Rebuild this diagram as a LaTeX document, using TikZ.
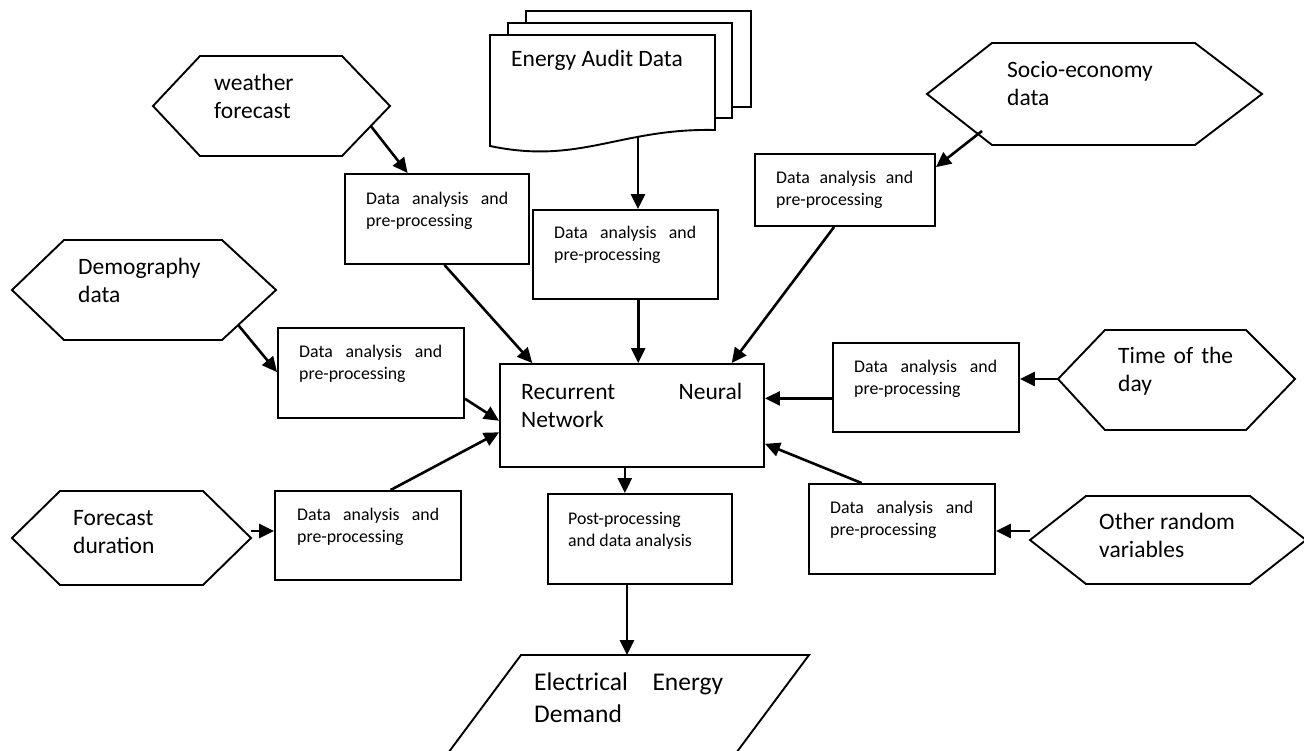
\documentclass[tikz,border=0pt]{standalone}
\usepackage{fontspec}
\setmainfont{Carlito}
\usetikzlibrary{arrows.meta,calc}

% two stacked lines whose baseline is that of the first line
\newcommand\dualline[2]{\vtop{\hbox{#1}\hbox{#2}}}
% a line whose word spaces stretch to a given width
\newcommand\spreadline[2]{\makebox[#1][s]{#2}}

\begin{document}
\begin{tikzpicture}[x=1pt,y=-1pt,
  outline/.style={draw, line width=1.9pt, line join=miter},
  procbox/.style={draw, line width=1.9pt, rectangle, inner sep=0pt},
  flow/.style={line width=2.6pt, -{Triangle[length=15pt,width=14pt]}},
  bigtxt/.style={anchor=base west, inner sep=0pt, font=\fontsize{23.5}{28.5}\selectfont},
  outtxt/.style={anchor=base west, inner sep=0pt, font=\fontsize{25.5}{32}\selectfont},
  smalltxt/.style={anchor=base west, inner sep=0pt, font=\fontsize{17.8}{22.8}\selectfont},
]
\useasboundingbox (0,0) rectangle (1304,750);

% ---------- input hexagons ----------
% weather forecast
\coordinate (wx-l) at (153,106); \coordinate (wx-tl) at (200,56);
\coordinate (wx-tr) at (342,56); \coordinate (wx-r) at (390,106);
\coordinate (wx-br) at (342,156); \coordinate (wx-bl) at (200,156);
\draw[outline] (wx-l) -- (wx-tl) -- (wx-tr) -- (wx-r) -- (wx-br) -- (wx-bl) -- cycle;
\node[bigtxt] (wx-t) at (214,90) {\dualline{weather}{forecast}};

% socio-economy data
\coordinate (se-l) at (927,94); \coordinate (se-tl) at (992,43);
\coordinate (se-tr) at (1195,43); \coordinate (se-r) at (1262,94);
\coordinate (se-br) at (1195,145); \coordinate (se-bl) at (992,145);
\draw[outline] (se-l) -- (se-tl) -- (se-tr) -- (se-r) -- (se-br) -- (se-bl) -- cycle;
\node[bigtxt] (se-t) at (1007,77) {\dualline{Socio-economy}{data}};
\coordinate (se-out) at (982,131);

% demography data
\coordinate (dm-l) at (12,290); \coordinate (dm-tl) at (64,240);
\coordinate (dm-tr) at (222,240); \coordinate (dm-r) at (276,290);
\coordinate (dm-br) at (222,340); \coordinate (dm-bl) at (64,340);
\draw[outline] (dm-l) -- (dm-tl) -- (dm-tr) -- (dm-r) -- (dm-br) -- (dm-bl) -- cycle;
\node[bigtxt] (dm-t) at (78,274) {\dualline{Demography}{data}};

% forecast duration
\coordinate (fc-l) at (12,538); \coordinate (fc-tl) at (60,491);
\coordinate (fc-tr) at (203,491); \coordinate (fc-r) at (251,538);
\coordinate (fc-br) at (203,585); \coordinate (fc-bl) at (60,585);
\draw[outline] (fc-l) -- (fc-tl) -- (fc-tr) -- (fc-r) -- (fc-br) -- (fc-bl) -- cycle;
\node[bigtxt] (fc-t) at (73,525) {\dualline{Forecast}{duration}};
\coordinate (fc-out) at (251,531);

% time of the day
\coordinate (td-l) at (1058,379); \coordinate (td-tl) at (1105,330);
\coordinate (td-tr) at (1246,330); \coordinate (td-r) at (1295,379);
\coordinate (td-br) at (1246,430); \coordinate (td-bl) at (1105,430);
\draw[outline] (td-l) -- (td-tl) -- (td-tr) -- (td-r) -- (td-br) -- (td-bl) -- cycle;
\node[bigtxt] (td-t) at (1118,363) {\dualline{\spreadline{115pt}{Time of the}}{day}};

% other random variables
\coordinate (ot-l) at (1030,540); \coordinate (ot-tl) at (1086,496);
\coordinate (ot-tr) at (1250,496); \coordinate (ot-r) at (1306,540);
\coordinate (ot-br) at (1250,584); \coordinate (ot-bl) at (1086,584);
\draw[outline] (ot-l) -- (ot-tl) -- (ot-tr) -- (ot-r) -- (ot-br) -- (ot-bl) -- cycle;
\node[bigtxt] (ot-t) at (1099,529) {\dualline{Other random}{variables}};
\coordinate (ot-out) at (1030,531);

% ---------- energy audit documents ----------
\draw[outline, fill=white] (526,23) -- (526,11) -- (751,11) -- (751,107) -- (732,107);
\draw[outline, fill=white] (508,35) -- (508,23) -- (732,23) -- (732,118) -- (715,118);
\draw[outline, fill=white] (490,35) -- (715,35) -- (715,130)
  .. controls (620,128) and (580,165) .. (490,146) -- cycle;
\node[bigtxt] (ead-t) at (511,66) {Energy Audit Data};
\coordinate (ead-out) at (638,137);

% ---------- processing boxes ----------
\node[procbox, minimum width=184pt, minimum height=90pt] (wdap) at (437,219) {};
\node[procbox, minimum width=185pt, minimum height=89pt] (edap) at (625.5,254.5) {};
\node[procbox, minimum width=180pt, minimum height=72pt] (sdap) at (845,190) {};
\node[procbox, minimum width=186pt, minimum height=90pt] (ddap) at (371,373) {};
\node[procbox, minimum width=186pt, minimum height=89pt] (fdap) at (368,535.5) {};
\node[procbox, minimum width=186pt, minimum height=89pt] (tdap) at (926,387.5) {};
\node[procbox, minimum width=186pt, minimum height=90pt] (odap) at (902,529) {};
\node[procbox, minimum width=184pt, minimum height=90pt] (pp) at (640,539) {};
\node[procbox, minimum width=264pt, minimum height=103pt] (rnn) at (632,415.5) {};

\node[smalltxt] (wdap-t) at (366,204) {\dualline{\spreadline{142pt}{Data analysis and}}{pre-processing}};
\node[smalltxt] (edap-t) at (554,238) {\dualline{\spreadline{142pt}{Data analysis and}}{pre-processing}};
\node[smalltxt] (sdap-t) at (776,183) {\dualline{\spreadline{137pt}{Data analysis and}}{pre-processing}};
\node[smalltxt] (ddap-t) at (299,357) {\dualline{\spreadline{143pt}{Data analysis and}}{pre-processing}};
\node[smalltxt] (fdap-t) at (297,520) {\dualline{\spreadline{142pt}{Data analysis and}}{pre-processing}};
\node[smalltxt] (tdap-t) at (854,372) {\dualline{\spreadline{143pt}{Data analysis and}}{pre-processing}};
\node[smalltxt] (odap-t) at (830,513) {\dualline{\spreadline{143pt}{Data analysis and}}{pre-processing}};
\node[smalltxt] (pp-t) at (568,524) {\dualline{Post-processing}{and data analysis}};
\node[bigtxt] (rnn-t) at (521,399) {\dualline{\spreadline{221pt}{Recurrent Neural}}{Network}};

% ---------- output parallelogram ----------
\coordinate (eed-tl) at (521,655); \coordinate (eed-tr) at (809,655);
\coordinate (eed-br) at (716,780); \coordinate (eed-bl) at (428,780);
\draw[outline] (eed-tl) -- (eed-tr) -- (eed-br) -- (eed-bl) -- cycle;
\node[outtxt] (eed-t) at (534,690) {\dualline{\spreadline{189pt}{Electrical Energy}}{Demand}};

% ---------- connectors ----------
\draw[flow] ($(wx-r)!0.4!(wx-br)$) -- ($(wdap.north west)!0.342!(wdap.north east)$);
\draw[flow] ($(wdap.south west)!0.54!(wdap.south east)$) -- ($(rnn.north west)!0.125!(rnn.north east)$);

\draw[flow] (ead-out) -- (ead-out |- edap.north);
\coordinate (edap-out) at ($(edap.south west)!0.568!(edap.south east)$);
\draw[flow] (edap-out) -- (edap-out |- rnn.north);

\draw[flow] (se-out) -- ($(sdap.north east)!0.19!(sdap.south east)$);
\draw[flow] ($(sdap.south west)!0.44!(sdap.south east)$) -- ($(rnn.north west)!0.875!(rnn.north east)$);

\draw[flow] ($(dm-r)!0.7!(dm-br)$) -- ($(ddap.north west)!0.49!(ddap.south west)$);
\draw[flow] ($(ddap.north east)!0.78!(ddap.south east)$) -- ($(rnn.north west)!0.55!(rnn.south west)$);

\draw[flow] (fc-out) -- (fc-out -| fdap.west);
\draw[flow] ($(fdap.north west)!0.62!(fdap.north east)$) -- ($(rnn.north west)!0.66!(rnn.south west)$);

\draw[flow] (td-l) -- (td-l -| tdap.east);
\coordinate (tdap-out) at ($(tdap.north west)!0.62!(tdap.south west)$);
\draw[flow] (tdap-out) -- (tdap-out -| rnn.east);

\draw[flow] (ot-out) -- (ot-out -| odap.east);
\draw[flow] ($(odap.north west)!0.285!(odap.north east)$) -- ($(rnn.north east)!0.77!(rnn.south east)$);

\coordinate (rnn-out) at ($(rnn.south west)!0.473!(rnn.south east)$);
\draw[flow] (rnn-out) -- (rnn-out |- pp.north);
\coordinate (pp-out) at ($(pp.south west)!0.43!(pp.south east)$);
\draw[flow] (pp-out) -- (pp-out |- eed-tl);
\end{tikzpicture}
\end{document}
